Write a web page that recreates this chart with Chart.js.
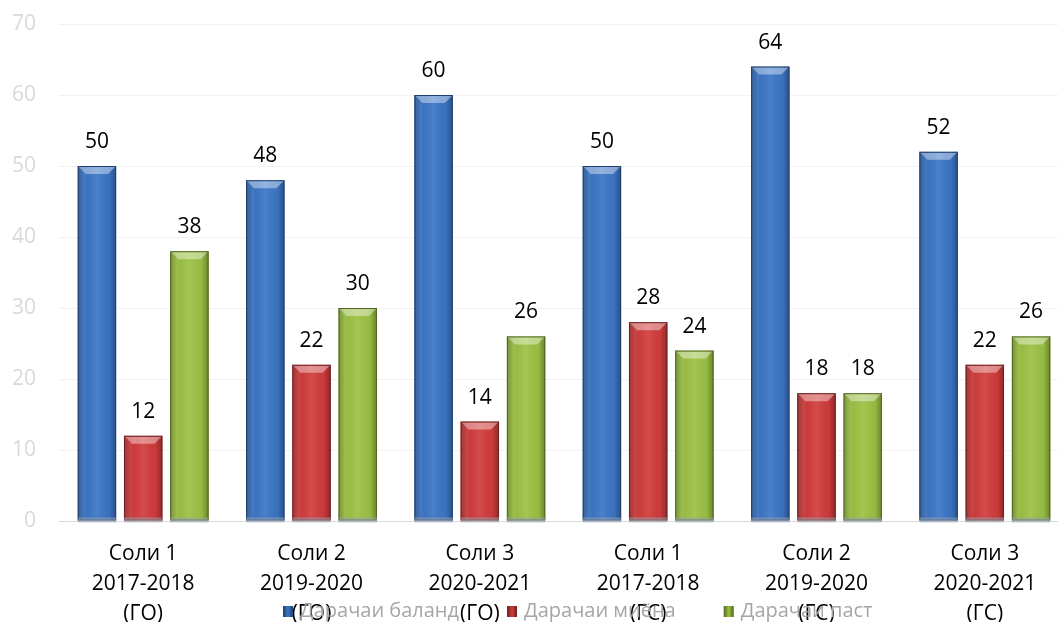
<!DOCTYPE html>
<html>
<head>
<meta charset="utf-8">
<script src="https://cdn.jsdelivr.net/npm/chart.js@4.4.1/dist/chart.umd.min.js"></script>
<style>
  html, body { margin:0; padding:0; background:#fff; overflow:hidden; }
  #wrap { position:relative; width:1072px; height:622px; }
</style>
</head>
<body>
<div id="wrap"><canvas id="c"></canvas></div>
<script>
const categories = [
  ['Соли 1','2017-2018','(ГО)'],
  ['Соли 2','2019-2020','(ГО)'],
  ['Соли 3','2020-2021','(ГО)'],
  ['Соли 1','2017-2018','(ГС)'],
  ['Соли 2','2019-2020','(ГС)'],
  ['Соли 3','2020-2021','(ГС)']
];
const seriesNames = ['Дарачаи баланд','Дарачаи миёна','Дарачаи паст'];
const highValues = [50, 48, 60, 50, 64, 52];
const midValues  = [12, 22, 14, 28, 18, 22];
const lowValues  = [38, 30, 26, 24, 18, 26];
const seriesColors = ['#3c76c6', '#d23c3c', '#9cc244'];
const seriesBorders = ['#1f3f6e', '#6e1f1f', '#50661f'];

const FONT = "'Open Sans', 'Noto Sans', sans-serif";

const barStyle = {
  id: 'barStyle',
  afterDatasetsDraw(chart) {
    const ctx = chart.ctx;
    chart.data.datasets.forEach((ds, di) => {
      const meta = chart.getDatasetMeta(di);
      meta.data.forEach((bar, idx) => {
        const w = bar.width, l = bar.x - w/2, r = bar.x + w/2, t = bar.y, b = bar.base;
        ctx.save();
        const g = ctx.createLinearGradient(l, 0, r, 0);
        g.addColorStop(0, 'rgba(0,0,0,0.28)');
        g.addColorStop(0.18, 'rgba(0,0,0,0.04)');
        g.addColorStop(0.5, 'rgba(255,255,255,0.08)');
        g.addColorStop(0.82, 'rgba(0,0,0,0.04)');
        g.addColorStop(1, 'rgba(0,0,0,0.32)');
        ctx.fillStyle = g;
        ctx.fillRect(l, t, w, b - t);
        const bv = 8;
        ctx.beginPath();
        ctx.moveTo(l, t); ctx.lineTo(r, t); ctx.lineTo(r - bv, t + bv); ctx.lineTo(l + bv, t + bv); ctx.closePath();
        ctx.fillStyle = 'rgba(255,255,255,0.4)';
        ctx.fill();
        ctx.beginPath();
        ctx.moveTo(l, t); ctx.lineTo(l + bv, t + bv); ctx.lineTo(l + bv, b); ctx.lineTo(l, b); ctx.closePath();
        ctx.fillStyle = 'rgba(255,255,255,0.06)';
        ctx.fill();
        ctx.strokeStyle = seriesBorders[di];
        ctx.lineWidth = 1;
        ctx.strokeRect(l + 0.5, t + 0.5, w - 1, b - t - 1);
        ctx.fillStyle = 'rgba(150,160,175,0.55)';
        ctx.fillRect(l, b - 3, w, 5);
        ctx.restore();
        ctx.save();
        ctx.font = '21px ' + FONT;
        ctx.fillStyle = '#000';
        ctx.textAlign = 'center';
        ctx.textBaseline = 'middle';
        ctx.fillText(String(ds.data[idx]), bar.x, t - 24);
        ctx.restore();
      });
    });
  }
};

const bottomLegend = {
  id: 'bottomLegend',
  afterDraw(chart) {
    const ctx = chart.ctx;
    ctx.save();
    ctx.font = '20px ' + FONT;
    ctx.textBaseline = 'middle';
    let x = 283;
    const y = 611;
    chart.data.datasets.forEach((ds, i) => {
      const g = ctx.createLinearGradient(x, 0, x + 10, 0);
      g.addColorStop(0, seriesBorders[i]);
      g.addColorStop(0.5, seriesColors[i]);
      g.addColorStop(1, seriesBorders[i]);
      ctx.fillStyle = g;
      ctx.fillRect(x, y - 5, 10, 11);
      ctx.fillStyle = '#a6a6a6';
      ctx.fillText(ds.label, x + 17, y);
      x += 17 + ctx.measureText(ds.label).width + 48;
    });
    ctx.restore();
  }
};

new Chart(document.getElementById('c'), {
  type: 'bar',
  data: {
    labels: categories,
    datasets: [
      { label: seriesNames[0], data: highValues, backgroundColor: seriesColors[0] },
      { label: seriesNames[1], data: midValues,  backgroundColor: seriesColors[1] },
      { label: seriesNames[2], data: lowValues,  backgroundColor: seriesColors[2] }
    ]
  },
  options: {
    responsive: true,
    maintainAspectRatio: false,
    animation: false,
    devicePixelRatio: 1,
    layout: { padding: { top: 24, right: 3, left: 0, bottom: 0 } },
    datasets: { bar: { categoryPercentage: 0.824, barPercentage: 0.83, borderWidth: 0 } },
    plugins: { legend: { display: false }, tooltip: { enabled: false } },
    scales: {
      x: {
        grid: { display: false, drawTicks: false },
        border: { display: true, color: '#d9d9d9', width: 1 },
        ticks: { color: '#000', font: { family: FONT, size: 21, lineHeight: 1.42 }, padding: 18, maxRotation: 0, autoSkip: false },
        afterFit(s) { s.height = 101; }
      },
      y: {
        min: 0, max: 70,
        ticks: { stepSize: 10, color: '#d9d9d9', font: { family: FONT, size: 21 }, padding: 0 },
        grid: { color: '#f2f2f2', drawTicks: true, tickLength: 23, tickColor: 'rgba(0,0,0,0)' },
        border: { display: false },
        afterFit(s) { s.width = 59; }
      }
    }
  },
  plugins: [barStyle, bottomLegend]
});
</script>
</body>
</html>
